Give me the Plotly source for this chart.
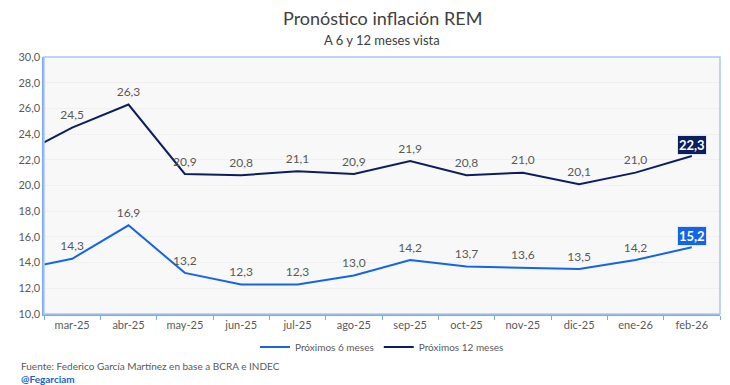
import plotly.graph_objects as go

# Data (first category is partially visible at the left edge only)
categories = ["feb-25", "mar-25", "abr-25", "may-25", "jun-25", "jul-25", "ago-25",
              "sep-25", "oct-25", "nov-25", "dic-25", "ene-26", "feb-26"]
prox_6 = [13.4, 14.3, 16.9, 13.2, 12.3, 12.3, 13.0, 14.2, 13.7, 13.6, 13.5, 14.2, 15.2]
prox_12 = [22.2, 24.5, 26.3, 20.9, 20.8, 21.1, 20.9, 21.9, 20.8, 21.0, 20.1, 21.0, 22.3]
series_names = ["Próximos 6 meses", "Próximos 12 meses"]
y_ticks = [10, 12, 14, 16, 18, 20, 22, 24, 26, 28, 30]

FONT = "Lato"
C6 = "#1464e6"
C12 = "#0b1f5e"
GRAY = "#595959"


def fmt(v):
    return f"{v:.1f}".replace(".", ",")


def labels(vals):
    # no label on the clipped first point nor the highlighted last point
    return [""] + [fmt(v) for v in vals[1:-1]] + [""]


fig = go.Figure()
for name, vals, col in [(series_names[0], prox_6, C6), (series_names[1], prox_12, C12)]:
    fig.add_trace(go.Scatter(
        x=categories, y=vals, name=name, mode="lines+markers+text",
        line=dict(color=col, width=2),
        marker=dict(size=7, color="rgba(0,0,0,0)", line=dict(width=0)),
        text=labels(vals), textposition="top center",
        textfont=dict(family=FONT, size=12, color=GRAY),
        cliponaxis=True,
    ))
    fig.add_annotation(
        x=categories[-1], y=vals[-1], text=f"<b>{fmt(vals[-1])}</b>",
        showarrow=False, yshift=11, bgcolor=col, bordercolor="#dde6f5", borderwidth=1,
        borderpad=1, font=dict(family=FONT, size=13, color="white"),
    )

# the page body has an 8px margin, so the figure is sized to end at the window edge
fig.update_layout(
    width=722, height=377,
    margin=dict(l=26, r=10, t=49, b=71),
    paper_bgcolor="white", plot_bgcolor="#f8f8f8",
    separators=",.",
    font=dict(family=FONT, color=GRAY, size=11),
    showlegend=True,
    legend=dict(orientation="h", x=0.5, xanchor="center", y=-0.128, yanchor="middle",
                font=dict(family=FONT, size=10, color=GRAY), itemwidth=30,
                bgcolor="rgba(0,0,0,0)"),
    xaxis=dict(type="category", categoryorder="array", categoryarray=categories,
               range=[0.5, 12.5], showgrid=False, showline=True, linecolor="#7ea8ea",
               linewidth=1.5, ticks="outside", tickson="boundaries", ticklen=4,
               tickcolor="#7ea8ea", tickfont=dict(family=FONT, size=11, color=GRAY)),
    yaxis=dict(range=[10, 30], tickvals=y_ticks, tickformat=".1f", showgrid=True,
               gridcolor="#f0f0f0", showline=True, linecolor="#7ea8ea", linewidth=1.5,
               zeroline=False, ticks="", tickfont=dict(family=FONT, size=11, color=GRAY)),
    shapes=[dict(type="rect", xref="paper", yref="paper", x0=0, x1=1, y0=0, y1=1,
                 line=dict(color="#a8c6f2", width=1.5), layer="above")],
)

fig.add_annotation(text="Pronóstico inflación REM", xref="paper", yref="paper",
                   x=0.5, y=1.0, yshift=39, xanchor="center", yanchor="middle",
                   showarrow=False, font=dict(family=FONT, size=18, color="#404040"))
fig.add_annotation(text="A 6 y 12 meses vista", xref="paper", yref="paper",
                   x=0.5, y=1.0, yshift=17, xanchor="center", yanchor="middle",
                   showarrow=False, font=dict(family=FONT, size=13, color="#404040"))
fig.add_annotation(text="Fuente: Federico García Martínez en base a BCRA e INDEC",
                   xref="paper", yref="paper", x=-0.037, y=-0.202, xanchor="left",
                   yanchor="middle", showarrow=False,
                   font=dict(family=FONT, size=10, color=GRAY))
fig.add_annotation(text="<b>@Fegarciam</b>", xref="paper", yref="paper", x=-0.037,
                   y=-0.253, xanchor="left", yanchor="middle", showarrow=False,
                   font=dict(family=FONT, size=10, color="#1a5fd0"))

fig.write_html("out.html")
